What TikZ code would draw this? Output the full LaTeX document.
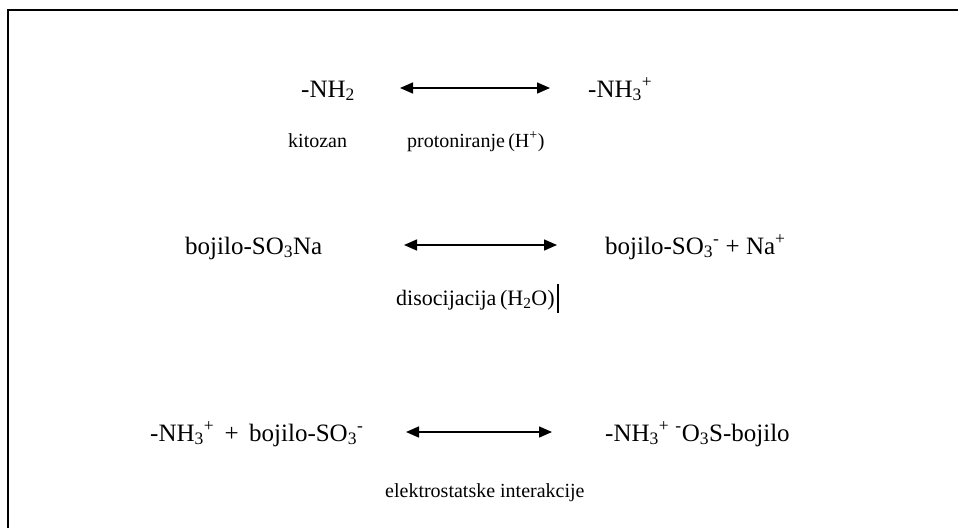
\documentclass[tikz,border=0pt]{standalone}
\usepackage{fontspec}
\setmainfont{Liberation Serif}
\usetikzlibrary{arrows.meta}

\newcommand{\velik}{\fontsize{25}{30}\selectfont}
\newcommand{\malen}{\fontsize{20}{24}\selectfont}

\begin{document}
\begin{tikzpicture}[x=1pt,y=-1pt,
	formula/.style={anchor=base west,inner sep=0pt,font=\velik},
	opis/.style={anchor=base west,inner sep=0pt,font=\malen},
	ravnoteza/.style={line width=1.5pt,{Triangle[length=13pt,width=11pt]}-{Triangle[length=13pt,width=11pt]}}]

	\useasboundingbox (0,0) rectangle (958,528);
	\draw[line width=2pt] (8,528) -- (8,10) -- (958,10);

	\node[formula] (nhdva) at (301,97) {-NH\textsubscript{2}};
	\node[formula] (nhtri) at (588,97) {-NH\textsubscript{3}\textsuperscript{+}};
	\coordinate (p1) at (400,88);
	\coordinate (k1) at (550,88);
	\draw[ravnoteza] (p1) -- (k1);
	\node[opis] (kitozan) at (288,147) {kitozan};
	\node[opis] (proton) at (407,147) {protoniranje\,(H\textsuperscript{+})};

	\node[formula] (bojnat) at (185,254) {bojilo-SO\textsubscript{3}Na};
	\node[formula] (bojion) at (605,254) {bojilo-SO\textsubscript{3}\textsuperscript{-} + Na\textsuperscript{+}};
	\coordinate (p2) at (404,245);
	\coordinate (k2) at (557,245);
	\draw[ravnoteza] (p2) -- (k2);
	\node[opis,font=\fontsize{22}{26}\selectfont] (disoc) at (396,305) {disocijacija\,(H\textsubscript{2}O)};
	\draw[line width=1.5pt] ([xshift=3pt]disoc.east |- 0,284) -- ([xshift=3pt]disoc.east |- 0,313);

	\node[formula] (par) at (150,441) {-NH\textsubscript{3}\textsuperscript{+}\ \,+\ \,bojilo-SO\textsubscript{3}\textsuperscript{-}};
	\node[formula] (kompleks) at (605,441) {-NH\textsubscript{3}\textsuperscript{+} \textsuperscript{-}O\textsubscript{3}S-bojilo};
	\coordinate (p3) at (406,432);
	\coordinate (k3) at (552,432);
	\draw[ravnoteza] (p3) -- (k3);
	\node[opis] (elstat) at (385,497) {elektrostatske interakcije};
\end{tikzpicture}
\end{document}
